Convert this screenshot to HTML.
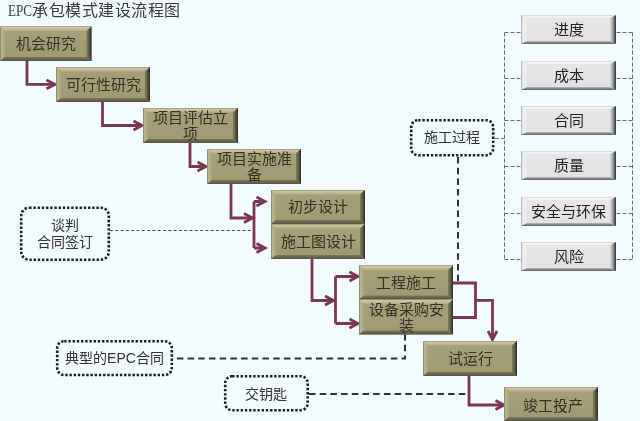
<!DOCTYPE html>
<html lang="zh-CN">
<head>
<meta charset="utf-8">
<style>
html,body{margin:0;padding:0;}
body{width:640px;height:421px;overflow:hidden;position:relative;background:#f2fbfe;font-family:"Liberation Serif",serif;color:#222;}
.t{position:absolute;left:8px;top:1px;font-size:16px;line-height:20px;color:#3a3a3a;white-space:nowrap;}
.ob,.gb,.dt{position:absolute;box-sizing:border-box;text-align:center;display:flex;align-items:center;justify-content:center;}
.ob{color:#333122;font-size:15px;line-height:15px;}
.gb{color:#222;font-size:15px;line-height:15px;}
.dt{font-family:"Liberation Sans",sans-serif;font-size:14px;line-height:17px;color:#333;}
svg{position:absolute;left:0;top:0;}
.ob,.gb,.dt,.t{will-change:transform;}
</style>
</head>
<body>
<div class="t"><span style="display:inline-block;transform:scaleX(.82);transform-origin:0 0;margin-right:-5.3px">EPC</span><span style="letter-spacing:0.55px">承包模式建设流程图</span></div>
<svg width="640" height="421" viewBox="0 0 640 421">
<defs>
<linearGradient id="of" x1="0" y1="0" x2="0" y2="1"><stop offset="0" stop-color="#a6a179"/><stop offset="1" stop-color="#9f9a72"/></linearGradient>
<linearGradient id="ot" x1="0" y1="0" x2="0" y2="1"><stop offset="0" stop-color="#827e62"/><stop offset="0.22" stop-color="#cdc9a3"/><stop offset="1" stop-color="#b2ad86"/></linearGradient>
<linearGradient id="ol" x1="0" y1="0" x2="1" y2="0"><stop offset="0" stop-color="#6e6a50"/><stop offset="0.22" stop-color="#bbb690"/><stop offset="1" stop-color="#a9a47c"/></linearGradient>
<linearGradient id="or" x1="0" y1="0" x2="1" y2="0"><stop offset="0" stop-color="#85805f"/><stop offset="0.6" stop-color="#55523f"/><stop offset="1" stop-color="#2c2b20"/></linearGradient>
<linearGradient id="ob" x1="0" y1="0" x2="0" y2="1"><stop offset="0" stop-color="#7c785d"/><stop offset="1" stop-color="#56533f"/></linearGradient>
<linearGradient id="gf" x1="0" y1="0" x2="0" y2="1"><stop offset="0" stop-color="#e6e8e5"/><stop offset="1" stop-color="#e0e2df"/></linearGradient>
<linearGradient id="gt" x1="0" y1="0" x2="0" y2="1"><stop offset="0" stop-color="#b6bab8"/><stop offset="0.3" stop-color="#f4f5f4"/><stop offset="1" stop-color="#eceeec"/></linearGradient>
<linearGradient id="gl" x1="0" y1="0" x2="1" y2="0"><stop offset="0" stop-color="#a0a6a4"/><stop offset="0.3" stop-color="#eef0ef"/><stop offset="1" stop-color="#eaecea"/></linearGradient>
<linearGradient id="gr" x1="0" y1="0" x2="1" y2="0"><stop offset="0" stop-color="#dcdedc"/><stop offset="0.5" stop-color="#9a9e9c"/><stop offset="0.8" stop-color="#50545a"/><stop offset="1" stop-color="#383c3a"/></linearGradient>
<linearGradient id="gb" x1="0" y1="0" x2="0" y2="1"><stop offset="0" stop-color="#b4b8b6"/><stop offset="0.6" stop-color="#7c807e"/><stop offset="1" stop-color="#5a5e5c"/></linearGradient>
</defs>
<g fill="none" stroke="#6a6a6a" stroke-width="1" stroke-dasharray="4,2">
  <path d="M504.5,32.5 V259.5 M632.5,32.5 V259.5"/>
  <path d="M504.5,32.5 H521 M504.5,78.5 H521 M504.5,120.5 H521 M504.5,166.5 H521 M504.5,213.5 H521 M504.5,259.5 H521"/>
  <path d="M632.5,32.5 H616 M632.5,78.5 H616 M632.5,120.5 H616 M632.5,166.5 H616 M632.5,213.5 H616 M632.5,259.5 H616"/>
  <path d="M495,138.5 H504.5"/>
</g>
<g fill="none" stroke="#4a4a4a" stroke-width="1.2" stroke-dasharray="3,2.3">
  <path d="M110,230.5 H253"/>
</g>
<g fill="none" stroke="#333" stroke-width="2" stroke-dasharray="6.5,4.2">
  <path d="M458,157 V282"/>
  <path d="M405,334 V358.5 H174"/>
  <path d="M309,394 H469"/>
</g>
<g fill="none" stroke="#1a1f30" stroke-width="2.6" stroke-dasharray="2.4,1.8">
  <rect x="21.2" y="207.7" width="87.6" height="52" rx="8"/>
  <rect x="411.2" y="120.2" width="82" height="35" rx="7"/>
  <rect x="57.2" y="341.2" width="114.6" height="33.8" rx="7"/>
  <rect x="225.2" y="376.2" width="82.5" height="34" rx="7"/>
</g>
<g fill="none" stroke="#7a3850" stroke-width="2.8" stroke-linejoin="miter">
  <path d="M27,61 V84.4 H54"/>
  <path d="M102.5,102 V125.5 H141"/>
  <path d="M190,143 V166.5 H205"/>
  <path d="M231,184 V218 H252"/>
  <path d="M254,201.5 V248 M254,201.5 H264 M254,248 H264"/>
  <path d="M312,259 V300.5 H333"/>
  <path d="M335.5,276.5 V323.5 M335.5,276.5 H357 M335.5,323.5 H357"/>
  <path d="M452.5,283 H475.5 V317.5 H452.5 M475.5,300.3 H492.5 V339"/>
  <path d="M469,376 V405 H503"/>
</g>
<g fill="none" stroke="#7a3850" stroke-width="2.8" stroke-linecap="butt">
  <path d="M46.5,80 L55,84.4 L46.5,88.8"/>
  <path d="M133.5,121 L142,125.5 L133.5,130"/>
  <path d="M197.5,162 L206,166.5 L197.5,171"/>
  <path d="M244,213.5 L252.5,218 L244,222.5"/>
  <path d="M256.5,197 L265,201.5 L256.5,206"/>
  <path d="M256.5,243.5 L265,248 L256.5,252.5"/>
  <path d="M325,296 L333.5,300.5 L325,305"/>
  <path d="M349.5,272 L358,276.5 L349.5,281"/>
  <path d="M349.5,319 L358,323.5 L349.5,328"/>
  <path d="M488,331 L492.5,339.5 L497,331"/>
  <path d="M495.5,400.5 L504,405 L495.5,409.5"/>
</g>
<rect x="0" y="26.5" width="91.5" height="34.5" fill="url(#of)"/>
<polygon points="0,26.5 91.5,26.5 86.5,31.0 5,31.0" fill="url(#ot)"/>
<polygon points="0,26.5 5,31.0 5,57.0 0,61.0" fill="url(#ol)"/>
<polygon points="0,61.0 91.5,61.0 86.5,57.0 5,57.0" fill="url(#ob)"/>
<polygon points="91.5,26.5 91.5,61.0 86.5,57.0 86.5,31.0" fill="url(#or)"/>
<rect x="56" y="67" width="94" height="35" fill="url(#of)"/>
<polygon points="56,67 150,67 145,71.5 61,71.5" fill="url(#ot)"/>
<polygon points="56,67 61,71.5 61,98 56,102" fill="url(#ol)"/>
<polygon points="56,102 150,102 145,98 61,98" fill="url(#ob)"/>
<polygon points="150,67 150,102 145,98 145,71.5" fill="url(#or)"/>
<rect x="143" y="108" width="95" height="35" fill="url(#of)"/>
<polygon points="143,108 238,108 233,112.5 148,112.5" fill="url(#ot)"/>
<polygon points="143,108 148,112.5 148,139 143,143" fill="url(#ol)"/>
<polygon points="143,143 238,143 233,139 148,139" fill="url(#ob)"/>
<polygon points="238,108 238,143 233,139 233,112.5" fill="url(#or)"/>
<rect x="207" y="149" width="94" height="35" fill="url(#of)"/>
<polygon points="207,149 301,149 296,153.5 212,153.5" fill="url(#ot)"/>
<polygon points="207,149 212,153.5 212,180 207,184" fill="url(#ol)"/>
<polygon points="207,184 301,184 296,180 212,180" fill="url(#ob)"/>
<polygon points="301,149 301,184 296,180 296,153.5" fill="url(#or)"/>
<rect x="271" y="190" width="94" height="34" fill="url(#of)"/>
<polygon points="271,190 365,190 360,194.5 276,194.5" fill="url(#ot)"/>
<polygon points="271,190 276,194.5 276,220 271,224" fill="url(#ol)"/>
<polygon points="271,224 365,224 360,220 276,220" fill="url(#ob)"/>
<polygon points="365,190 365,224 360,220 360,194.5" fill="url(#or)"/>
<rect x="271" y="224" width="94" height="35" fill="url(#of)"/>
<polygon points="271,224 365,224 360,228.5 276,228.5" fill="url(#ot)"/>
<polygon points="271,224 276,228.5 276,255 271,259" fill="url(#ol)"/>
<polygon points="271,259 365,259 360,255 276,255" fill="url(#ob)"/>
<polygon points="365,224 365,259 360,255 360,228.5" fill="url(#or)"/>
<rect x="359" y="265.5" width="94" height="34" fill="url(#of)"/>
<polygon points="359,265.5 453,265.5 448,270.0 364,270.0" fill="url(#ot)"/>
<polygon points="359,265.5 364,270.0 364,295.5 359,299.5" fill="url(#ol)"/>
<polygon points="359,299.5 453,299.5 448,295.5 364,295.5" fill="url(#ob)"/>
<polygon points="453,265.5 453,299.5 448,295.5 448,270.0" fill="url(#or)"/>
<rect x="359" y="299.5" width="94" height="35" fill="url(#of)"/>
<polygon points="359,299.5 453,299.5 448,304.0 364,304.0" fill="url(#ot)"/>
<polygon points="359,299.5 364,304.0 364,330.5 359,334.5" fill="url(#ol)"/>
<polygon points="359,334.5 453,334.5 448,330.5 364,330.5" fill="url(#ob)"/>
<polygon points="453,299.5 453,334.5 448,330.5 448,304.0" fill="url(#or)"/>
<rect x="423" y="341" width="94" height="35" fill="url(#of)"/>
<polygon points="423,341 517,341 512,345.5 428,345.5" fill="url(#ot)"/>
<polygon points="423,341 428,345.5 428,372 423,376" fill="url(#ol)"/>
<polygon points="423,376 517,376 512,372 428,372" fill="url(#ob)"/>
<polygon points="517,341 517,376 512,372 512,345.5" fill="url(#or)"/>
<rect x="504" y="387" width="94" height="34" fill="url(#of)"/>
<polygon points="504,387 598,387 593,391.5 509,391.5" fill="url(#ot)"/>
<polygon points="504,387 509,391.5 509,417 504,421" fill="url(#ol)"/>
<polygon points="504,421 598,421 593,417 509,417" fill="url(#ob)"/>
<polygon points="598,387 598,421 593,417 593,391.5" fill="url(#or)"/>
<rect x="521" y="15" width="95" height="29" fill="url(#gf)"/>
<polygon points="521,15 616,15 610,18 527,18" fill="url(#gt)"/>
<polygon points="521,15 527,18 527,41 521,44" fill="url(#gl)"/>
<polygon points="521,44 616,44 610,41 527,41" fill="url(#gb)"/>
<polygon points="616,15 616,44 610,41 610,18" fill="url(#gr)"/>
<rect x="521" y="61" width="95" height="29" fill="url(#gf)"/>
<polygon points="521,61 616,61 610,64 527,64" fill="url(#gt)"/>
<polygon points="521,61 527,64 527,87 521,90" fill="url(#gl)"/>
<polygon points="521,90 616,90 610,87 527,87" fill="url(#gb)"/>
<polygon points="616,61 616,90 610,87 610,64" fill="url(#gr)"/>
<rect x="521" y="106" width="95" height="29" fill="url(#gf)"/>
<polygon points="521,106 616,106 610,109 527,109" fill="url(#gt)"/>
<polygon points="521,106 527,109 527,132 521,135" fill="url(#gl)"/>
<polygon points="521,135 616,135 610,132 527,132" fill="url(#gb)"/>
<polygon points="616,106 616,135 610,132 610,109" fill="url(#gr)"/>
<rect x="521" y="151" width="95" height="29" fill="url(#gf)"/>
<polygon points="521,151 616,151 610,154 527,154" fill="url(#gt)"/>
<polygon points="521,151 527,154 527,177 521,180" fill="url(#gl)"/>
<polygon points="521,180 616,180 610,177 527,177" fill="url(#gb)"/>
<polygon points="616,151 616,180 610,177 610,154" fill="url(#gr)"/>
<rect x="521" y="197" width="95" height="29" fill="url(#gf)"/>
<polygon points="521,197 616,197 610,200 527,200" fill="url(#gt)"/>
<polygon points="521,197 527,200 527,223 521,226" fill="url(#gl)"/>
<polygon points="521,226 616,226 610,223 527,223" fill="url(#gb)"/>
<polygon points="616,197 616,226 610,223 610,200" fill="url(#gr)"/>
<rect x="521" y="242" width="95" height="29" fill="url(#gf)"/>
<polygon points="521,242 616,242 610,245 527,245" fill="url(#gt)"/>
<polygon points="521,242 527,245 527,268 521,271" fill="url(#gl)"/>
<polygon points="521,271 616,271 610,268 527,268" fill="url(#gb)"/>
<polygon points="616,242 616,271 610,268 610,245" fill="url(#gr)"/>
</svg>
<div class="ob" style="left:0px;top:26.5px;width:91.5px;height:34.5px;padding-top:1px;">机会研究</div>
<div class="ob" style="left:56px;top:67px;width:94px;height:35px;padding-top:1px;">可行性研究</div>
<div class="ob" style="left:143px;top:108px;width:95px;height:35px;line-height:16px;padding-top:1px;">项目评估立<br>项</div>
<div class="ob" style="left:207px;top:149px;width:94px;height:35px;line-height:16px;padding-top:1px;">项目实施准<br>备</div>
<div class="ob" style="left:271px;top:190px;width:94px;height:34px;padding-top:1px;">初步设计</div>
<div class="ob" style="left:271px;top:224px;width:94px;height:35px;padding-top:1px;">施工图设计</div>
<div class="ob" style="left:359px;top:265.5px;width:94px;height:34px;padding-top:1px;">工程施工</div>
<div class="ob" style="left:359px;top:299.5px;width:94px;height:35px;line-height:16px;padding-top:1px;">设备采购安<br>装</div>
<div class="ob" style="left:423px;top:341px;width:94px;height:35px;padding-top:1px;">试运行</div>
<div class="ob" style="left:504px;top:387px;width:94px;height:34px;padding-top:4px;padding-left:4px;">竣工投产</div>
<div class="gb" style="left:521px;top:15px;width:95px;height:29px;padding-top:2.5px;">进度</div>
<div class="gb" style="left:521px;top:61px;width:95px;height:29px;padding-top:2.5px;">成本</div>
<div class="gb" style="left:521px;top:106px;width:95px;height:29px;padding-top:2.5px;">合同</div>
<div class="gb" style="left:521px;top:151px;width:95px;height:29px;padding-top:2.5px;">质量</div>
<div class="gb" style="left:521px;top:197px;width:95px;height:29px;padding-top:2.5px;">安全与环保</div>
<div class="gb" style="left:521px;top:242px;width:95px;height:29px;padding-top:2.5px;">风险</div>
<div class="dt" style="left:20px;top:207px;width:89px;height:54px;">谈判<br>合同签订</div>
<div class="dt" style="left:410px;top:119px;width:84px;height:37px;">施工过程</div>
<div class="dt" style="left:56px;top:340px;width:117px;height:36px;">典型的EPC合同</div>
<div class="dt" style="left:224px;top:376px;width:84px;height:36px;">交钥匙</div>
</body>
</html>
